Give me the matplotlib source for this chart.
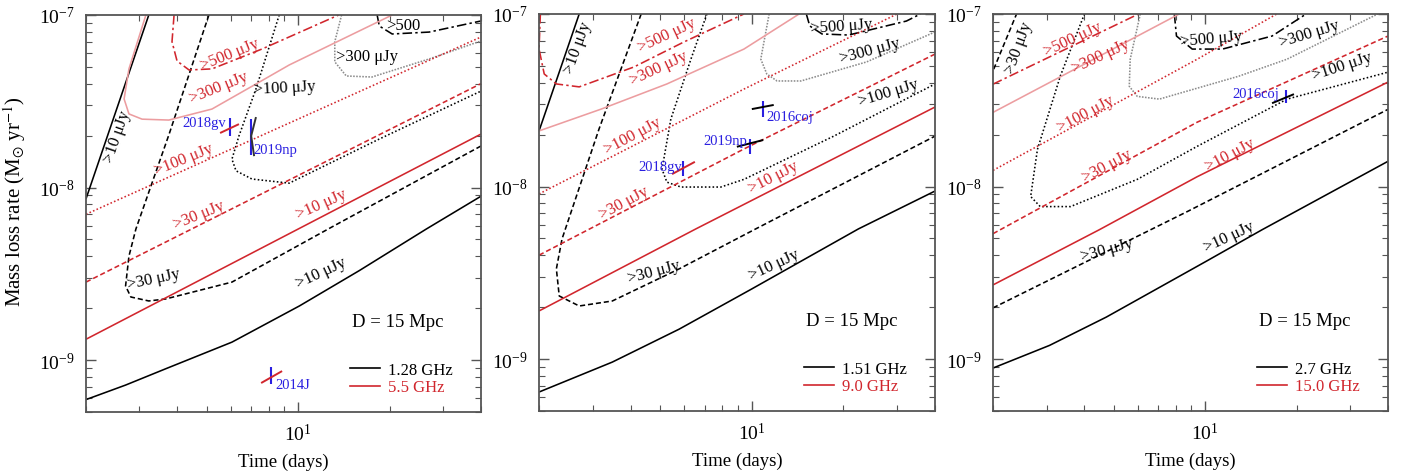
import matplotlib
matplotlib.use("Agg")
import matplotlib.pyplot as plt
from matplotlib.lines import Line2D
from matplotlib.ticker import NullFormatter

plt.rcParams['font.family'] = ['Liberation Serif', 'DejaVu Serif']
plt.rcParams['mathtext.fontset'] = 'stix'

# ---- panel 1: 1.28 GHz (black) / 5.5 GHz (red); points are (t [days], Mdot [Msun/yr])
p1_k10_a = [(2.0, 8.6e-9), (3.22, 1e-7)]
p1_k10_b = [(2.0, 5.9e-10), (2.70, 7.16e-10), (3.66, 8.9e-10), (6.05, 1.27e-9), (10.1, 2.06e-9),
            (15.9, 3.3e-9), (26.4, 5.74e-9), (40, 8.9e-9)]
p1_k30 = [(5.08, 1e-7), (3.75, 2.02e-8), (2.92, 5.75e-9), (2.77, 4.0e-9), (2.70, 2.69e-9), (2.81, 2.32e-9),
          (3.22, 2.20e-9), (3.66, 2.26e-9), (6.05, 2.83e-9), (12.9, 5.9e-9), (40, 1.74e-8)]
p1_k100 = [(8.66, 1e-7), (7.26, 3.73e-8), (6.38, 1.99e-8), (6.05, 1.46e-8), (6.24, 1.25e-8), (7.04, 1.12e-8),
           (9.34, 1.06e-8), (18.5, 1.91e-8), (40, 3.62e-8)]
p1_k300 = [(13.9, 1e-7), (13.2, 7.0e-8), (13.2, 5.35e-8), (14.4, 4.43e-8), (17.5, 4.37e-8), (27.0, 5.56e-8), (40, 7.07e-8)]
p1_k500 = [(18.2, 1e-7), (18.5, 8.63e-8), (20.4, 7.76e-8), (27.0, 7.96e-8), (40, 9.23e-8)]
p1_r10 = [(2.0, 1.32e-9), (40, 2.04e-8)]
p1_r30 = [(2.0, 2.83e-9), (40, 4.0e-8)]
p1_r100 = [(2.0, 7.0e-9), (40, 7.45e-8)]
p1_r300 = [(3.15, 1e-7), (2.77, 4.87e-8), (2.67, 3.26e-8), (2.77, 2.67e-8), (3.06, 2.49e-8), (3.75, 2.46e-8),
           (5.20, 2.85e-8), (7.26, 3.98e-8), (9.34, 5.13e-8), (20.4, 1e-7)]
p1_r500 = [(3.90, 1e-7), (3.84, 7.0e-8), (3.99, 5.41e-8), (4.37, 4.80e-8), (5.20, 4.87e-8), (7.60, 6.35e-8), (13.6, 1e-7)]

# ---- panel 2: 1.51 GHz / 9.0 GHz
p2_k10_a = [(2.0, 2.10e-8), (2.71, 1e-7)]
p2_k10_b = [(2.0, 6.44e-10), (3.48, 9.6e-10), (5.77, 1.49e-9), (10, 2.55e-9), (22.4, 5.68e-9), (40, 9.42e-9)]
p2_k30 = [(4.33, 1e-7), (3.15, 2.16e-8), (2.38, 4.97e-9), (2.28, 3.33e-9), (2.33, 2.32e-9), (2.71, 2.03e-9),
          (3.48, 2.17e-9), (5.77, 3.33e-9), (10.3, 5.68e-9), (40, 1.96e-8)]
p2_k100 = [(7.12, 1e-7), (6.31, 5.48e-8), (5.42, 2.46e-8), (5.07, 1.26e-8), (5.26, 1.06e-8), (5.85, 9.93e-9),
           (7.91, 9.93e-9), (9.42, 1.10e-8), (18.6, 1.96e-8), (40, 3.93e-8)]
p2_k300 = [(11.4, 1e-7), (10.7, 5.48e-8), (11.2, 4.49e-8), (12.1, 4.09e-8), (14.5, 4.09e-8), (23.8, 5.27e-8), (40, 7.87e-8)]
p2_k500 = [(15.1, 1e-7), (15.5, 8.52e-8), (17.0, 7.66e-8), (20.8, 7.55e-8), (32.2, 9.1e-8), (35.8, 1e-7)]
p2_r10 = [(2.0, 1.90e-9), (6.55, 5.68e-9), (40, 2.89e-8)]
p2_r30 = [(2.0, 4.0e-9), (9.42, 1.65e-8), (40, 5.86e-8)]
p2_r100 = [(2.0, 9.06e-9), (9.42, 3.67e-8), (30, 1e-7)]
p2_r300 = [(2.0, 2.10e-8), (3.2, 2.81e-8), (5.26, 3.93e-8), (9.42, 6.26e-8), (14.3, 1e-7)]
p2_r500 = [(2.02, 1e-7), (2.0, 6.26e-8), (2.08, 4.49e-8), (2.28, 3.93e-8), (2.71, 3.78e-8), (4.10, 4.93e-8),
           (5.98, 6.88e-8), (9.42, 1e-7)]

# ---- panel 3: 2.7 GHz / 15.0 GHz
p3_k10 = [(2.0, 8.87e-10), (3.07, 1.2e-9), (4.72, 1.75e-9), (10, 3.66e-9), (15.4, 5.62e-9), (40, 1.40e-8)]
p3_k30_a = [(2.01, 4.79e-8), (2.39, 1e-7)]
p3_k30_b = [(2.0, 1.98e-9), (8.73, 7.16e-9), (40, 2.80e-8)]
p3_k100 = [(4.0, 1e-7), (3.33, 4.36e-8), (2.80, 1.64e-8), (2.66, 8.75e-9), (2.86, 7.65e-9), (3.60, 7.65e-9),
           (5.97, 1.10e-8), (9.41, 1.71e-8), (18.6, 3.21e-8), (40, 4.6e-8)]
p3_k300 = [(6.11, 1e-7), (5.66, 5.47e-8), (5.62, 3.81e-8), (5.97, 3.33e-8), (7.06, 3.21e-8), (12.9, 4.36e-8),
           (18.6, 5.47e-8), (37.0, 1e-7)]
p3_k500 = [(7.91, 1e-7), (8.04, 7.45e-8), (9.06, 6.26e-8), (11.4, 6.26e-8), (16.6, 7.45e-8), (21.5, 1e-7)]
p3_r10 = [(2.0, 2.69e-9), (4.48, 5.62e-9), (9.41, 1.14e-8), (40, 4.03e-8)]
p3_r30 = [(2.0, 5.33e-9), (9.41, 2.36e-8), (40, 7.45e-8)]
p3_r100 = [(2.0, 1.24e-8), (9.41, 5.47e-8), (17.2, 1e-7)]
p3_r300 = [(2.0, 2.69e-8), (8.21, 1e-7)]
p3_r500 = [(2.0, 3.92e-8), (6.03, 1e-7)]

# ---- observed SNe: blue bar (t, Mdot low, Mdot high) + short constraint segment
p1_sn_name = ["2018gv", "2019np", "2014J"]
p1_sn_t = [5.97, 7.0, 8.15]
p1_sn_lo = [1.99e-8, 1.54e-8, 7.26e-10]
p1_sn_hi = [2.53e-8, 2.49e-8, 9.1e-10]
p1_seg_2018gv = [(5.53, 2.07e-8), (6.38, 2.33e-8)]
p1_seg_2019np = [(7.26, 2.56e-8), (7.0, 1.99e-8), (7.16, 1.52e-8)]
p1_seg_2014J = [(7.55, 7.36e-10), (8.85, 8.63e-10)]

p2_sn_name = ["2018gv", "2019np", "2016coj"]
p2_sn_t = [5.94, 9.85, 10.9]
p2_sn_lo = [1.15e-8, 1.54e-8, 2.53e-8]
p2_sn_hi = [1.41e-8, 1.88e-8, 3.13e-8]
p2_seg_2018gv = [(5.47, 1.18e-8), (6.5, 1.39e-8)]
p2_seg_2019np = [(8.93, 1.70e-8), (10.9, 1.86e-8)]
p2_seg_2016coj = [(10.0, 2.81e-8), (11.8, 2.97e-8)]

p3_sn_name = ["2016coj"]
p3_sn_t = [18.5]
p3_sn_lo = [3.04e-8]
p3_sn_hi = [3.61e-8]
p3_seg_2016coj = [(16.6, 3.04e-8), (19.6, 3.43e-8)]

FREQS = [("1.28 GHz", "5.5 GHz"), ("1.51 GHz", "9.0 GHz"), ("2.7 GHz", "15.0 GHz")]

BLACK = "black"
RED = "#d1262d"
PINK = "#ec9da0"
GREY = "#8c8c8c"
BLUE = "#2a1fe0"
FRAME = "#555555"

LS = {10: "-", 30: (0, (3.2, 1.8)), 100: (0, (1, 1.4)), 300: (0, (1, 0.9)), 500: (0, (6, 2, 1.5, 2))}


def curve(ax, pts, color, ls, lw=1.15):
    t = [p[0] for p in pts]
    m = [p[1] for p in pts]
    ax.plot(t, m, color=color, ls=ls, lw=lw, solid_capstyle="butt", solid_joinstyle="round")


def lab(ax, t, m, s, color, rot):
    ax.text(t, m, s, color=color, fontsize=12, rotation=rot, rotation_mode="anchor",
            ha="center", va="center")


fig = plt.figure(figsize=(14.1, 4.77), dpi=100)
rects = [[0.0610, 0.1342, 0.2801, 0.8323],
         [0.3823, 0.1363, 0.2809, 0.8323],
         [0.7043, 0.1363, 0.2801, 0.8323]]
axes = [fig.add_axes(r) for r in rects]

# black contours: (pts, level)
black = [
    [(p1_k10_a, 10), (p1_k10_b, 10), (p1_k30, 30), (p1_k100, 100), (p1_k300, 300), (p1_k500, 500)],
    [(p2_k10_a, 10), (p2_k10_b, 10), (p2_k30, 30), (p2_k100, 100), (p2_k300, 300), (p2_k500, 500)],
    [(p3_k10, 10), (p3_k30_a, 30), (p3_k30_b, 30), (p3_k100, 100), (p3_k300, 300), (p3_k500, 500)],
]
red = [
    [(p1_r10, 10), (p1_r30, 30), (p1_r100, 100), (p1_r300, 300), (p1_r500, 500)],
    [(p2_r10, 10), (p2_r30, 30), (p2_r100, 100), (p2_r300, 300), (p2_r500, 500)],
    [(p3_r10, 10), (p3_r30, 30), (p3_r100, 100), (p3_r300, 300), (p3_r500, 500)],
]

for i, ax in enumerate(axes):
    for pts, lev in black[i]:
        col = GREY if lev == 300 else BLACK
        curve(ax, pts, col, LS[lev])
    for pts, lev in red[i]:
        if lev == 300:
            curve(ax, pts, PINK, "-")
        else:
            curve(ax, pts, RED, LS[lev])

# ---- contour labels
a = axes[0]
lab(a, 2.53, 1.99e-8, ">10 μJy", BLACK, 71)
lab(a, 5.97, 5.94e-8, ">500 μJy", RED, 22)
lab(a, 5.48, 3.83e-8, ">300 μJy", RED, 22)
lab(a, 9.0, 3.83e-8, ">100 μJy", BLACK, 3)
lab(a, 16.8, 5.78e-8, ">300 μJy", BLACK, 0)
lab(a, 22.2, 8.75e-8, ">500", BLACK, 0)
lab(a, 4.21, 1.46e-8, ">100 μJy", RED, 22)
lab(a, 4.71, 7.0e-9, ">30 μJy", RED, 22)
lab(a, 11.9, 8.0e-9, ">10 μJy", RED, 24)
lab(a, 3.35, 2.95e-9, ">30 μJy", BLACK, 12)
lab(a, 11.9, 3.24e-9, ">10 μJy", BLACK, 25)

a = axes[1]
lab(a, 2.67, 6.44e-8, ">10 μJy", BLACK, 70)
lab(a, 5.26, 7.55e-8, ">500 μJy", RED, 25)
lab(a, 4.95, 4.87e-8, ">300 μJy", RED, 25)
lab(a, 4.05, 1.99e-8, ">100 μJy", RED, 28)
lab(a, 3.80, 8.13e-9, ">30 μJy", RED, 28)
lab(a, 11.8, 1.14e-8, ">10 μJy", RED, 27)
lab(a, 19.7, 8.52e-8, ">500 μJy", BLACK, 4)
lab(a, 24.5, 6.18e-8, ">300 μJy", BLACK, 15)
lab(a, 28.1, 3.53e-8, ">100 μJy", BLACK, 17)
lab(a, 4.78, 3.24e-9, ">30 μJy", BLACK, 15)
lab(a, 11.8, 3.56e-9, ">10 μJy", BLACK, 25)

a = axes[2]
lab(a, 2.43, 6.43e-8, ">30 μJy", BLACK, 70)
lab(a, 3.65, 7.16e-8, ">500 μJy", RED, 25)
lab(a, 4.52, 5.7e-8, ">300 μJy", RED, 25)
lab(a, 4.03, 2.65e-8, ">100 μJy", RED, 28)
lab(a, 4.76, 1.32e-8, ">30 μJy", RED, 28)
lab(a, 12.1, 1.53e-8, ">10 μJy", RED, 28)
lab(a, 10.5, 7.25e-8, ">500 μJy", BLACK, 5)
lab(a, 22.1, 7.76e-8, ">300 μJy", BLACK, 17)
lab(a, 28.2, 4.99e-8, ">100 μJy", BLACK, 18)
lab(a, 4.76, 4.31e-9, ">30 μJy", BLACK, 15)
lab(a, 12.0, 5.12e-9, ">10 μJy", BLACK, 25)

# ---- SNe
sn = [(p1_sn_name, p1_sn_t, p1_sn_lo, p1_sn_hi),
      (p2_sn_name, p2_sn_t, p2_sn_lo, p2_sn_hi),
      (p3_sn_name, p3_sn_t, p3_sn_lo, p3_sn_hi)]
for ax, (names, ts, lo, hi) in zip(axes, sn):
    ax.vlines(ts, lo, hi, color=BLUE, lw=1.5)

curve(axes[0], p1_seg_2018gv, RED, "-", 1.4)
curve(axes[0], p1_seg_2019np, "#333333", "-", 1.4)
curve(axes[0], p1_seg_2014J, RED, "-", 1.4)
curve(axes[1], p2_seg_2018gv, RED, "-", 1.4)
curve(axes[1], p2_seg_2019np, BLACK, "-", 1.4)
curve(axes[1], p2_seg_2016coj, BLACK, "-", 1.4)
curve(axes[2], p3_seg_2016coj, BLACK, "-", 1.4)

sfs = 10.5
axes[0].text(5.79, 2.37e-8, p1_sn_name[0], color=BLUE, fontsize=sfs, ha="right", va="center")
axes[0].text(7.10, 1.67e-8, p1_sn_name[1], color=BLUE, fontsize=sfs, ha="left", va="center")
axes[0].text(8.40, 7.26e-10, p1_sn_name[2], color=BLUE, fontsize=sfs, ha="left", va="center")
axes[1].text(5.89, 1.30e-8, p2_sn_name[0], color=BLUE, fontsize=sfs, ha="right", va="center")
axes[1].text(9.63, 1.84e-8, p2_sn_name[1], color=BLUE, fontsize=sfs, ha="right", va="center")
axes[1].text(11.2, 2.56e-8, p2_sn_name[2], color=BLUE, fontsize=sfs, ha="left", va="center")
axes[2].text(17.5, 3.47e-8, p3_sn_name[0], color=BLUE, fontsize=sfs, ha="right", va="center")

# ---- axes cosmetics
for i, ax in enumerate(axes):
    ax.set_xscale("log")
    ax.set_yscale("log")
    ax.set_xlim(2, 40)
    ax.set_ylim(5e-10, 1e-7)
    ax.xaxis.set_minor_formatter(NullFormatter())
    ax.yaxis.set_minor_formatter(NullFormatter())
    ax.tick_params(which="both", direction="in", top=True, right=True, colors=FRAME,
                   labelcolor="black", labelsize=14, pad=8)
    ax.tick_params(which="major", length=7, width=1.0)
    ax.tick_params(which="minor", length=4, width=0.8)
    for sp in ax.spines.values():
        sp.set_color(FRAME)
        sp.set_linewidth(1.3)
    ax.set_xlabel("Time (days)", fontsize=13.5, labelpad=6)
    ax.text(0.673, 0.227, "D = 15 Mpc", transform=ax.transAxes, fontsize=13.5, ha="left", va="center")
    hk = Line2D([], [], color=BLACK, lw=1.2)
    hr = Line2D([], [], color=RED, lw=1.2)
    leg = ax.legend([hk, hr], list(FREQS[i]), loc="center left", bbox_to_anchor=(0.668, 0.084),
                    frameon=False, fontsize=12, handlelength=1.8, handletextpad=0.5,
                    labelspacing=0.1, borderpad=0, borderaxespad=0)
    leg.get_texts()[1].set_color(RED)

axes[0].set_ylabel(r"Mass loss rate (M$_{\odot}$ yr$^{-1}$)", fontsize=15)
axes[0].yaxis.set_label_coords(-0.148, 0.532)

fig.savefig("out.png", dpi=100)
